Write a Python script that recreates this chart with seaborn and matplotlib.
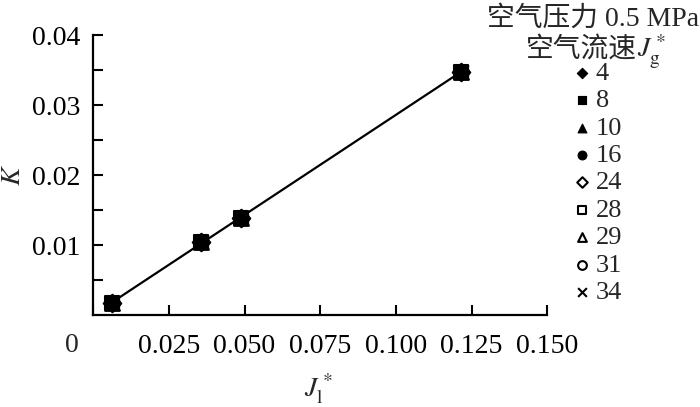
from matplotlib import pyplot as plt
import numpy as np
import pandas as pd
import seaborn as sns

# data
jl = [0.0064, 0.0357, 0.0488, 0.1215]     # J_l*
k_vals = [0.0017, 0.0105, 0.0139, 0.0347]  # K
jg_labels = ['4', '8', '10', '16', '24', '28', '29', '31', '34']
jg_markers = ['D', 's', '^', 'o', 'D', 's', '^', 'o', 'x']
jg_filled = [True, True, True, True, False, False, False, False, True]
x_ticks = [0, 0.025, 0.050, 0.075, 0.100, 0.125, 0.150]
x_ticklabels = ['', '0.025', '0.050', '0.075', '0.100', '0.125', '0.150']
y_ticks = [0.01, 0.02, 0.03, 0.04]
y_ticklabels = ['0.01', '0.02', '0.03', '0.04']


def main():
    sns.set_style('ticks')
    plt.rcParams['font.family'] = ['Liberation Serif', 'Noto Sans CJK SC', 'DejaVu Sans']
    plt.rcParams['mathtext.fontset'] = 'stix'

    fig = plt.figure(figsize=(7, 4.07), dpi=100)
    ax = fig.add_axes([0.133, 0.226, 0.649, 0.688])

    df = pd.DataFrame({'jl': jl, 'K': k_vals})

    # fitted straight line through the points
    sns.regplot(data=df, x='jl', y='K', ci=None, scatter=False, truncate=True,
                color='black', line_kws={'linewidth': 1.6}, ax=ax)

    # hollow series first, filled ones on top
    order = [i for i in range(len(jg_labels)) if not jg_filled[i]] + \
            [i for i in range(len(jg_labels)) if jg_filled[i]]
    for i in order:
        m = jg_markers[i]
        if m == 'x':
            kw = dict(color='black', linewidth=1.5)
        elif jg_filled[i]:
            kw = dict(color='black', edgecolor='black')
        else:
            kw = dict(facecolor='white', edgecolor='black', linewidth=1.5)
        sns.scatterplot(data=df, x='jl', y='K', marker=m, s=110 if m != 'D' else 80,
                        label=jg_labels[i], ax=ax, zorder=3, **kw)

    h, l = ax.get_legend_handles_labels()
    by_label = dict(zip(l, h))
    ax.legend([by_label[j] for j in jg_labels], jg_labels,
              loc='upper left', bbox_to_anchor=(560 / 700, 1 - 48 / 407),
              bbox_transform=fig.transFigure, frameon=False,
              fontsize=19, markerscale=0.6,
              handlelength=0.7, handletextpad=0.15, labelspacing=0.15,
              borderpad=0.0)

    # legend title, two lines
    fig.text(593 / 700, 1 - 26 / 407, '空气压力 0.5 MPa', ha='center',
             va='baseline', fontsize=20)
    fig.text(637 / 700, 1 - 57 / 407, '空气流速', ha='right', va='baseline',
             fontsize=20)
    fig.text(637 / 700, 1 - 57 / 407, '$J_\\mathrm{g}^*$', ha='left',
             va='baseline', fontsize=20)

    ax.set_xlim(0, 0.150)
    ax.set_ylim(0, 0.04)
    ax.set_xticks(x_ticks)
    ax.set_xticklabels(x_ticklabels)
    ax.set_yticks(y_ticks)
    ax.set_yticklabels(y_ticklabels)
    ax.set_yticks([0.005, 0.015, 0.025, 0.035], minor=True)
    ax.tick_params(axis='both', which='both', direction='in', length=7, width=1.5,
                   labelsize=20, colors='black')
    ax.tick_params(axis='x', pad=14)
    ax.tick_params(axis='y', pad=9)
    ax.text(72 / 700, 1 - 345 / 407, '0', transform=fig.transFigure,
            ha='center', va='center', fontsize=20)

    for s in ['top', 'right']:
        ax.spines[s].set_visible(False)
    for s in ['left', 'bottom']:
        ax.spines[s].set_linewidth(1.6)
        ax.spines[s].set_color('black')

    ax.set_xlabel('$J_\\mathrm{l}^*$', fontsize=20)
    ax.set_ylabel('$K$', fontsize=20)
    ax.xaxis.set_label_coords(0.496, -0.2)
    ax.yaxis.set_label_coords(-0.148, 0.5)

    plt.savefig('out.png')


if __name__ == '__main__':
    main()
